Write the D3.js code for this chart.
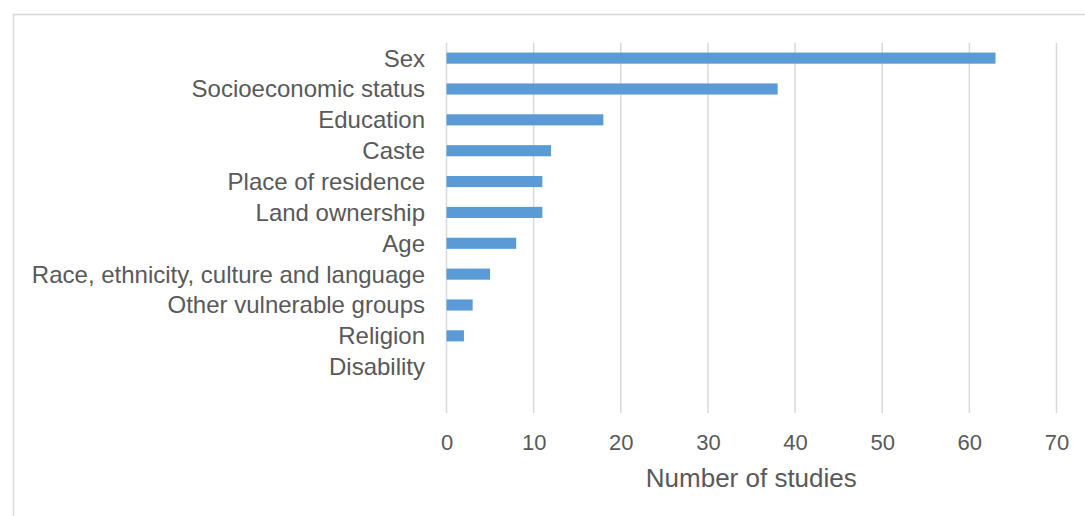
<!DOCTYPE html>
<html><head><meta charset="utf-8">
<script src="https://cdn.jsdelivr.net/npm/d3@7"></script>
<style>html,body{margin:0;padding:0;background:#fff;}svg{display:block;font-family:"Liberation Sans",Arial,sans-serif;}</style>
</head><body>
<svg id="c" width="1085" height="516"></svg>
<script>
const categories = ["Sex","Socioeconomic status","Education","Caste","Place of residence","Land ownership","Age","Race, ethnicity, culture and language","Other vulnerable groups","Religion","Disability",""];
const values = [63,38,18,12,11,11,8,5,3,2,0,null];
const xTicks = [0,10,20,30,40,50,60,70];
const xTitle = "Number of studies";

const svg = d3.select("#c");
svg.append("rect").attr("x",13.5).attr("y",14.5).attr("width",1100).attr("height",520)
  .attr("fill","#fff").attr("stroke","#d9d9d9").attr("stroke-width",1.5);

const x = d3.scaleLinear().domain([0,70]).range([446.5,1056.5]);
const y = d3.scaleBand().domain(categories).range([42.7,413]).paddingInner(0.64).paddingOuter(0.32);

const g = svg.append("g");
g.selectAll("line.grid").data(xTicks).join("line").attr("class","grid")
  .attr("x1",d=>x(d)).attr("x2",d=>x(d)).attr("y1",42.7).attr("y2",413)
  .attr("stroke","#d9d9d9").attr("stroke-width",1.5);

g.selectAll("rect.bar").data(categories.map((c,i)=>({c,v:values[i]})).filter(d=>d.v)).join("rect").attr("class","bar")
  .attr("x",x(0)).attr("y",d=>y(d.c)).attr("width",d=>x(d.v)-x(0)).attr("height",y.bandwidth())
  .attr("fill","#5b9bd5");

// y labels
const yAxis = d3.axisLeft(y).tickSize(0).tickPadding(0);
const ya = svg.append("g").attr("transform","translate(425,0)").call(yAxis);
ya.select(".domain").remove();
ya.selectAll("text").attr("fill","#595959").style("font-size","24px").attr("dy","0.35em");

// x labels
const xAxis = d3.axisBottom(x).tickValues(xTicks).tickSize(0).tickPadding(0);
const xa = svg.append("g").attr("transform","translate(0,434)").call(xAxis);
xa.select(".domain").remove();
xa.selectAll("text").attr("fill","#595959").style("font-size","22px").attr("dy","0.71em");

svg.append("text").attr("x",751.3).attr("y",486.7).attr("text-anchor","middle")
  .attr("fill","#595959").style("font-size","26px").text(xTitle);
</script>
</body></html>
